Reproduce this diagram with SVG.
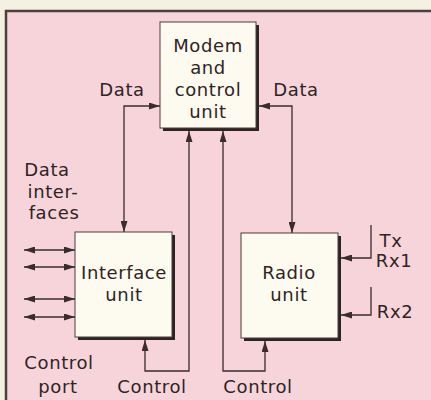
<svg xmlns="http://www.w3.org/2000/svg" width="431" height="400" viewBox="0 0 431 400">
<defs>
<marker id="ah" viewBox="0 0 11 7" refX="11" refY="3.5" markerWidth="11" markerHeight="7" markerUnits="userSpaceOnUse" orient="auto-start-reverse">
<path d="M0,0 L11,3.5 L0,7 Z" fill="#3a2c2c"/>
</marker>
</defs>
<style>
text{font-family:"DejaVu Sans","Liberation Sans",sans-serif;font-size:18px;letter-spacing:0.6px;fill:#2e2424;text-anchor:middle}
.box{fill:#fdfaf0;stroke:#4a3c3c;stroke-width:1}
.sh{fill:#2e2222}
.ln{fill:none;stroke:#3a2c2c;stroke-width:1.3}
</style>
<rect x="0" y="0" width="431" height="400" fill="#f4f0e2"/>
<rect x="6" y="11" width="425" height="389" fill="#f7d4d9"/>
<path d="M6,400 V11 H431" fill="none" stroke="#4e3e3c" stroke-width="2.5"/>

<g id="connectors">
<path class="ln" d="M160,106 H124 V232" marker-start="url(#ah)" marker-end="url(#ah)"/>
<path class="ln" d="M259,106 H292 V233" marker-start="url(#ah)" marker-end="url(#ah)"/>
<path class="ln" d="M189,131 V371 H145 V340" marker-start="url(#ah)" marker-end="url(#ah)"/>
<path class="ln" d="M223,131 V371 H265 V341" marker-start="url(#ah)" marker-end="url(#ah)"/>
<path class="ln" d="M24,250 H75" marker-start="url(#ah)" marker-end="url(#ah)"/>
<path class="ln" d="M24,267 H75" marker-start="url(#ah)" marker-end="url(#ah)"/>
<path class="ln" d="M24,299 H75" marker-start="url(#ah)" marker-end="url(#ah)"/>
<path class="ln" d="M24,317 H75" marker-start="url(#ah)" marker-end="url(#ah)"/>
<path class="ln" d="M371,225 V258 H341" marker-end="url(#ah)"/>
<path class="ln" d="M371,287 V315 H341" marker-end="url(#ah)"/>
</g>

<g id="modem">
<rect class="sh" x="163" y="25" width="96" height="106"/>
<rect class="box" x="160" y="22" width="96" height="106"/>
<text x="208" y="52">Modem</text>
<text x="208" y="74">and</text>
<text x="208" y="96">control</text>
<text x="208" y="118">unit</text>
</g>

<g id="interface">
<rect class="sh" x="78" y="235" width="97" height="105"/>
<rect class="box" x="75" y="232" width="97" height="105"/>
<text x="124" y="279">Interface</text>
<text x="124" y="301">unit</text>
</g>

<g id="radio">
<rect class="sh" x="244" y="236" width="97" height="105"/>
<rect class="box" x="241" y="233" width="97" height="105"/>
<text x="289" y="279">Radio</text>
<text x="289" y="301">unit</text>
</g>

<g id="labels">
<text x="122" y="96">Data</text>
<text x="296" y="96">Data</text>
<text x="47" y="176">Data</text>
<text x="53" y="198">inter-</text>
<text x="54" y="219">faces</text>
<text x="59" y="369">Control</text>
<text x="58" y="393">port</text>
<text x="152" y="393">Control</text>
<text x="258" y="393">Control</text>
<text x="391" y="247">Tx</text>
<text x="394" y="267">Rx1</text>
<text x="395" y="318">Rx2</text>
</g>
</svg>
